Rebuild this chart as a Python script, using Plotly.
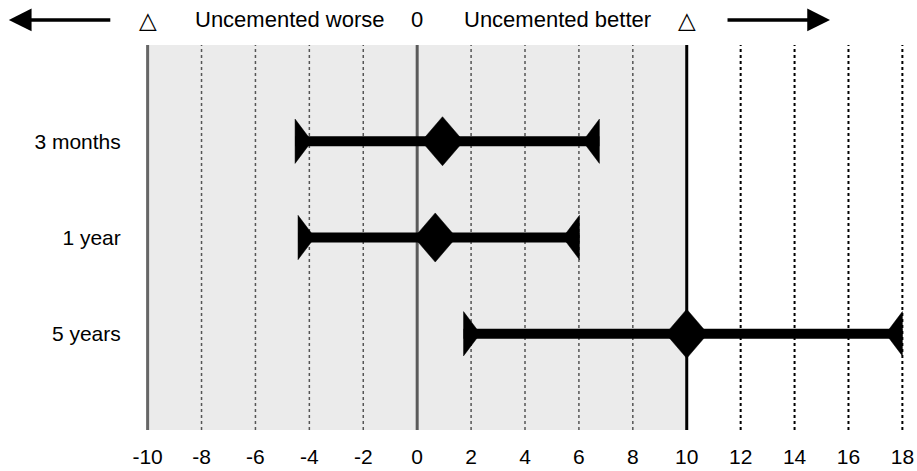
import plotly.graph_objects as go

# ---- data ----
categories = ["3 months", "1 year", "5 years"]
point_est = [0.94, 0.67, 10.0]
ci_lower = [-4.53, -4.42, 1.72]
ci_upper = [6.76, 6.02, 18.0]
x_ticks = [-10, -8, -6, -4, -2, 0, 2, 4, 6, 8, 10, 12, 14, 16, 18]
x_tick_labels = [str(v) for v in x_ticks]
header_texts = ["△", "Uncemented worse", "0", "Uncemented better", "△"]
header_pos = [-10, -4.7, 0, 5.2, 10]

# ---- style constants ----
FONT = "Helvetica, Arial, Liberation Sans, sans-serif"
FS = 21
TRI_W = 0.62   # triangle depth in x units
TRI_H = 0.23   # triangle half height in y units
DIA_W = 0.78   # diamond half width
DIA_H = 0.255  # diamond half height
PAD = 0.06     # small range padding so edge lines are not clipped
shade_from, shade_to = -10, 10

rows = list(range(1, len(categories) + 1))

fig = go.Figure()

# CI bars
bx, by = [], []
for r, lo, hi in zip(rows, ci_lower, ci_upper):
    bx += [lo, hi, None]
    by += [r, r, None]
fig.add_trace(go.Scatter(x=bx, y=by, mode="lines",
                         line=dict(color="black", width=10),
                         showlegend=False, hoverinfo="skip"))

# end triangles (flat edge at CI end, pointing inward)
tx, ty = [], []
for r, lo, hi in zip(rows, ci_lower, ci_upper):
    tx += [lo, lo, lo + TRI_W, lo, None]
    ty += [r - TRI_H, r + TRI_H, r, r - TRI_H, None]
    tx += [hi, hi, hi - TRI_W, hi, None]
    ty += [r - TRI_H, r + TRI_H, r, r - TRI_H, None]
fig.add_trace(go.Scatter(x=tx, y=ty, mode="lines", fill="toself",
                         fillcolor="black", line=dict(color="black", width=0.5),
                         showlegend=False, hoverinfo="skip"))

# diamonds at point estimates
dx, dy = [], []
for r, p in zip(rows, point_est):
    dx += [p - DIA_W, p, p + DIA_W, p, p - DIA_W, None]
    dy += [r, r - DIA_H, r, r + DIA_H, r, None]
fig.add_trace(go.Scatter(x=dx, y=dy, mode="lines", fill="toself",
                         fillcolor="black", line=dict(color="black", width=0.5),
                         showlegend=False, hoverinfo="skip"))

shapes = [dict(type="rect", xref="x", yref="paper", x0=shade_from, x1=shade_to,
               y0=0, y1=1, fillcolor="#ebebeb", line=dict(width=0), layer="below")]
for v in x_ticks:
    if v == -10:
        ln = dict(color="#666666", width=3)
    elif v == 0:
        ln = dict(color="#5a5a5a", width=3)
    elif v == 10:
        ln = dict(color="black", width=3)
    elif v < 10:
        ln = dict(color="#555555", width=1.5, dash="3px,3px")
    else:
        ln = dict(color="black", width=2, dash="3px,3px")
    shapes.append(dict(type="line", xref="x", yref="paper", x0=v, x1=v,
                       y0=0, y1=1, line=ln, layer="below"))

annotations = []
for t, p in zip(header_texts, header_pos):
    is_tri = t == "△"
    annotations.append(dict(text=t, x=p, xref="x", y=1.065, yref="paper",
                            showarrow=False, xanchor="center", yanchor="middle",
                            font=dict(size=23 if is_tri else 22, color="black",
                                      family="DejaVu Sans" if is_tri else FONT)))
# header arrows
annotations.append(dict(text="", x=-0.181, xref="paper", y=1.065, yref="paper",
                        ax=103, ay=0, showarrow=True, arrowhead=2, arrowsize=1.3,
                        arrowwidth=3.5, arrowcolor="black"))
annotations.append(dict(text="", x=0.9024, xref="paper", y=1.065, yref="paper",
                        ax=-104, ay=0, showarrow=True, arrowhead=2, arrowsize=1.3,
                        arrowwidth=3.5, arrowcolor="black"))

fig.update_layout(
    width=917, height=471,
    margin=dict(l=146, r=13, t=45, b=41),
    plot_bgcolor="white", paper_bgcolor="white",
    shapes=shapes, annotations=annotations,
    font=dict(family=FONT, size=FS, color="black"),
)
fig.update_xaxes(range=[x_ticks[0] - PAD, x_ticks[-1] + PAD],
                 tickvals=x_ticks, ticktext=x_tick_labels,
                 showgrid=False, zeroline=False, showline=False, automargin=False,
                 ticks="outside", ticklen=8, tickcolor="rgba(0,0,0,0)",
                 tickfont=dict(size=FS, color="black", family=FONT))
fig.update_yaxes(range=[4, 0], tickvals=rows, ticktext=categories,
                 showgrid=False, zeroline=False, showline=False, automargin=False,
                 ticks="outside", ticklen=20, tickcolor="rgba(0,0,0,0)",
                 tickfont=dict(size=FS, color="black", family=FONT))

fig.write_html("out.html")
